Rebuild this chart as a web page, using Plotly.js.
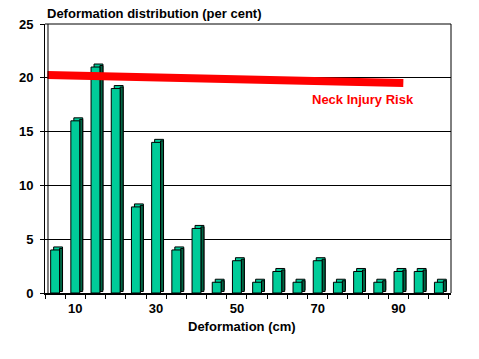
<!DOCTYPE html>
<html><head><meta charset="utf-8">
<script src="https://cdn.plot.ly/plotly-3.0.1.min.js"></script>
<style>html,body{margin:0;padding:0;background:#fff}#chart{width:479px;height:359px}</style>
</head><body><div id="chart"></div>
<script>
var deformation = [5,10,15,20,25,30,35,40,45,50,55,60,65,70,75,80,85,90,95,100];
var percent = [4,16,21,19,8,14,4,6,1,3,1,2,1,3,1,2,1,2,2,1];
var xTickVals = [10,30,50,70,90];
var riskX = [3.1, 91.2];
var riskY = [20.27, 19.52];

var W = 2.2, DX = 0.74, DY = 0.28;
var teal = '#00cc99', dark = '#006644';
var back = {type:'bar', x:deformation, y:percent, base:DY, width:W, offset:-W/2+DX,
  marker:{color:teal, line:{color:'#000', width:1}}, hoverinfo:'skip', showlegend:false};
var side = {type:'bar', x:deformation, y:percent, base:DY*0.5, width:DX, offset:W/2,
  marker:{color:dark, line:{color:'#000', width:1}}, hoverinfo:'skip', showlegend:false};
var front = {type:'bar', x:deformation, y:percent, base:0, width:W, offset:-W/2,
  marker:{color:teal, line:{color:'#000', width:1}}, showlegend:false};
var risk = {type:'scatter', mode:'lines', x:riskX, y:riskY, line:{color:'#ff0000', width:8}, showlegend:false};

var font = {family:'Liberation Sans, Arial, sans-serif', size:13, color:'#000', weight:'bold'};
var layout = {
  width:479, height:359,
  margin:{l:45, r:28, t:24, b:66},
  paper_bgcolor:'#fff', plot_bgcolor:'#fff',
  barmode:'overlay',
  font:font,
  title:{text:'<b>Deformation distribution (per cent)</b>', x:47/479, xanchor:'left', y:1-13/359, yanchor:'middle', font:font},
  xaxis:{range:[2.5, 103.0], tickvals:xTickVals, ticks:'', ticklen:0, showgrid:false, zeroline:false,
    showline:true, linecolor:'#000', linewidth:2, tickfont:font, ticklabelstandoff:2,
    minor:{tick0:2.5, dtick:5, ticks:'outside', ticklen:4, tickcolor:'#000', tickwidth:1, showgrid:false}},
  yaxis:{range:[0,25], tickvals:[0,5,10,15,20,25], ticks:'outside', ticklen:4, tickcolor:'#000',
    showgrid:true, gridcolor:'#000', gridwidth:1, zeroline:false, showline:true, linecolor:'#000', linewidth:1,
    tickfont:font, ticklabelstandoff:4},
  shapes:[
    {type:'line', xref:'x', yref:'y', x0:2.5+DX, x1:2.5+DX, y0:0, y1:25, line:{color:'#000', width:1}},
    {type:'line', xref:'paper', yref:'paper', x0:1, x1:1, y0:0, y1:1, line:{color:'#000', width:1}},
    {type:'line', xref:'paper', yref:'paper', x0:0, x1:1, y0:1, y1:1, line:{color:'#000', width:1}}
  ],
  annotations:[
    {text:'<b>Neck Injury Risk</b>', x:68.2, y:18.0, xref:'x', yref:'y', xanchor:'left', yanchor:'middle', showarrow:false,
      font:{family:font.family, size:13, color:'#ff0000'}},
    {text:'<b>Deformation (cm)</b>', x:(242-45)/406, y:-(326-293)/269, xref:'paper', yref:'paper', xanchor:'center', yanchor:'middle', showarrow:false, font:font}
  ]
};
Plotly.newPlot('chart', [back, side, front, risk], layout, {displayModeBar:false, staticPlot:true});
</script></body></html>
